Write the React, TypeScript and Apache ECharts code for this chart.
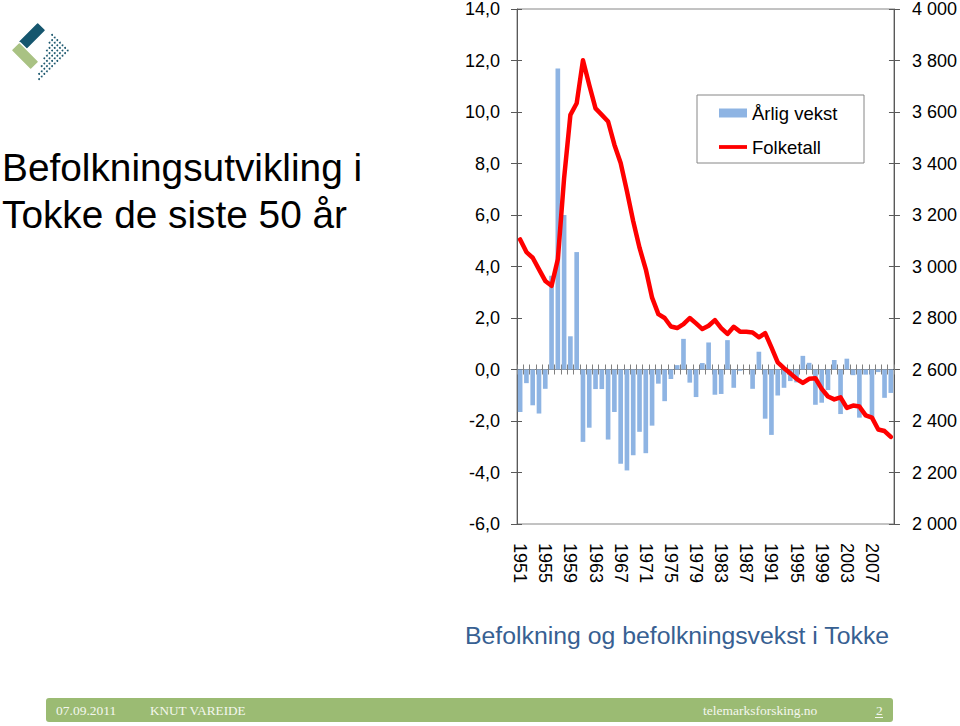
import React, { useEffect, useRef } from 'react';
import * as echarts from 'echarts';

const years = [
  '1951','1952','1953','1954','1955','1956','1957','1958','1959','1960',
  '1961','1962','1963','1964','1965','1966','1967','1968','1969','1970',
  '1971','1972','1973','1974','1975','1976','1977','1978','1979','1980',
  '1981','1982','1983','1984','1985','1986','1987','1988','1989','1990',
  '1991','1992','1993','1994','1995','1996','1997','1998','1999','2000',
  '2001','2002','2003','2004','2005','2006','2007','2008','2009','2010',
];

// Årlig vekst (%)
const growth = [
  -1.65, -0.53, -1.39, -1.71, -0.75, 3.64, 11.69, 6.0, 1.29, 4.56,
  -2.81, -2.26, -0.76, -0.76, -2.72, -1.65, -3.66, -3.92, -3.33, -2.42,
  -3.25, -2.18, -0.55, -1.23, -0.37, 0.17, 1.19, -0.51, -1.07, 0.25,
  1.05, -0.98, -0.95, 1.14, -0.71, -0.05, 0.0, -0.75, 0.69, -1.91,
  -2.54, -1.01, -0.71, -0.45, -0.5, 0.53, 0.26, -1.37, -1.29, -0.8,
  0.37, -1.73, 0.42, -0.22, -1.87, -0.2, -1.88, -0.1, -1.1, -0.91,
];

// Folketall
const population = [
  3105, 3056, 3034, 2989, 2944, 2925, 3028, 3344, 3589, 3634,
  3801, 3705, 3614, 3589, 3563, 3473, 3402, 3292, 3176, 3073,
  2989, 2879, 2815, 2800, 2767, 2761, 2776, 2800, 2779, 2757,
  2770, 2792, 2761, 2738, 2766, 2747, 2747, 2744, 2725, 2741,
  2686, 2628, 2605, 2585, 2564, 2548, 2564, 2566, 2525, 2495,
  2484, 2492, 2451, 2460, 2456, 2422, 2413, 2367, 2361, 2338,
];

const titleLines = ['Befolkningsutvikling i', 'Tokke de siste 50 år'];
const chartTitle = 'Befolkning og befolkningsvekst i Tokke';
const footerLeft = ['07.09.2011', 'KNUT VAREIDE'];
const footerRight = ['telemarksforsking.no', '2'];

export default function App() {
  const ref = useRef<HTMLDivElement>(null);

  useEffect(() => {
    if (!ref.current) return;
    const chart = echarts.init(ref.current, null, { renderer: 'svg' });
    const font = 'Liberation Sans, Arial, sans-serif';
    const serif = 'Liberation Serif, Times New Roman, serif';

    // logo dots (decoration): triangular dotted patch in 45° rotated coordinates
    const dots: any[] = [];
    const d = 5.2;
    for (let a = -40; a <= 17.5; a += d) {
      for (let b = 87; b <= 120.5; b += d) {
        if (b < 87 + ((17 - a) * 27) / 57) continue;
        const x = (a + b) / 2;
        const y = (b - a) / 2;
        dots.push({
          type: 'circle',
          shape: { cx: x, cy: y, r: 0.95 },
          style: { fill: '#1f5a70' },
          silent: true,
        });
      }
    }

    const catAxisBase = {
      type: 'category',
      data: years,
      gridIndex: 0,
      position: 'bottom',
      boundaryGap: true,
    };
    const leftFmt = (v: number) => v.toFixed(1).replace('.', ',');
    const rightFmt = (v: number) => {
      const t = Math.floor(v / 1000);
      const r = String(Math.round(v % 1000)).padStart(3, '0');
      return `${t} ${r}`;
    };

    chart.setOption({
      animation: false,
      backgroundColor: '#ffffff',
      textStyle: { fontFamily: font },
      grid: {
        left: 517,
        top: 7,
        width: 377,
        height: 517,
        show: true,
        borderColor: '#868686',
        borderWidth: 1,
        containLabel: false,
      },
      legend: {
        orient: 'vertical',
        left: 719,
        top: 103,
        itemWidth: 28,
        itemHeight: 9,
        itemGap: 14,
        padding: 0,
        selectedMode: false,
        textStyle: { fontSize: 18.5, color: '#000', fontFamily: font, lineHeight: 20 },
        data: [
          { name: 'Årlig vekst', icon: 'rect' },
          { name: 'Folketall', icon: 'path://M0,0M0,9M0,2.6H28V6.4H0Z' },
        ],
      },
      xAxis: [
        {
          ...catAxisBase,
          axisLine: { show: false, onZero: false },
          axisTick: { show: false },
          axisLabel: {
            interval: 3,
            rotate: -90,
            margin: 19,
            fontSize: 18,
            color: '#000',
            fontFamily: font,
          },
          splitLine: { show: false },
        },
        {
          ...catAxisBase,
          axisLine: { show: true, onZero: true, onZeroAxisIndex: 0, lineStyle: { color: '#808080', width: 1 } },
          axisTick: { show: true, interval: 0, length: 5, inside: false, lineStyle: { color: '#808080' } },
          axisLabel: { show: false },
          splitLine: { show: false },
        },
        {
          ...catAxisBase,
          axisLine: { show: true, onZero: true, onZeroAxisIndex: 0, lineStyle: { color: '#808080', width: 1 } },
          axisTick: { show: true, interval: 0, length: 5, inside: true, lineStyle: { color: '#808080' } },
          axisLabel: { show: false },
          splitLine: { show: false },
        },
      ],
      yAxis: [
        {
          type: 'value',
          position: 'left',
          min: -6,
          max: 14,
          interval: 2,
          axisLine: { show: true, lineStyle: { color: '#595959' } },
          axisTick: { show: true, length: 6, lineStyle: { color: '#595959' } },
          axisLabel: { formatter: leftFmt, fontSize: 18, color: '#000', margin: 17, fontFamily: font },
          splitLine: { show: false },
        },
        {
          type: 'value',
          position: 'right',
          min: 2000,
          max: 4000,
          interval: 200,
          axisLine: { show: true, lineStyle: { color: '#595959' } },
          axisTick: { show: true, length: 6, lineStyle: { color: '#595959' } },
          axisLabel: { formatter: rightFmt, fontSize: 18, color: '#000', margin: 18, fontFamily: font },
          splitLine: { show: false },
        },
        {
          type: 'value',
          position: 'left',
          min: -6,
          max: 14,
          interval: 2,
          axisLine: { show: false },
          axisTick: { show: true, inside: true, length: 5, lineStyle: { color: '#595959' } },
          axisLabel: { show: false },
          splitLine: { show: false },
        },
        {
          type: 'value',
          position: 'right',
          min: 2000,
          max: 4000,
          interval: 200,
          axisLine: { show: false },
          axisTick: { show: true, inside: true, length: 5, lineStyle: { color: '#595959' } },
          axisLabel: { show: false },
          splitLine: { show: false },
        },
      ],
      series: [
        {
          name: 'Årlig vekst',
          type: 'bar',
          xAxisIndex: 0,
          yAxisIndex: 0,
          data: growth,
          barWidth: '74%',
          itemStyle: { color: '#8EB4E3' },
          z: 2,
        },
        {
          name: 'Folketall',
          type: 'line',
          xAxisIndex: 0,
          yAxisIndex: 1,
          data: population,
          symbol: 'none',
          showSymbol: false,
          lineStyle: { color: '#FF0000', width: 4.5, join: 'round', cap: 'round' },
          itemStyle: { color: '#FF0000' },
          z: 3,
        },
      ],
      graphic: [
        // legend frame
        {
          type: 'rect',
          shape: { x: 697, y: 95, width: 167, height: 68 },
          style: { fill: 'none', stroke: '#868686', lineWidth: 1 },
          silent: true,
          z: 0,
        },
        // titles
        {
          type: 'text',
          x: 2,
          y: 167,
          style: { text: titleLines[0], fontSize: 38.8, fontFamily: font, fill: '#000', align: 'left', verticalAlign: 'middle' },
        },
        {
          type: 'text',
          x: 2,
          y: 214,
          style: { text: titleLines[1], fontSize: 38.8, fontFamily: font, fill: '#000', align: 'left', verticalAlign: 'middle' },
        },
        {
          type: 'text',
          x: 465,
          y: 635,
          style: { text: chartTitle, fontSize: 24.8, fontFamily: font, fill: '#376092', align: 'left', verticalAlign: 'middle' },
        },
        // footer bar
        {
          type: 'rect',
          shape: { x: 46, y: 698, width: 847, height: 24, r: 3 },
          style: { fill: '#9BBB73' },
          silent: true,
        },
        {
          type: 'text',
          x: 56,
          y: 710,
          style: { text: footerLeft[0], fontSize: 13.5, fontFamily: serif, fill: '#F4F7EE', align: 'left', verticalAlign: 'middle' },
        },
        {
          type: 'text',
          x: 150,
          y: 710,
          style: { text: footerLeft[1], fontSize: 13.2, fontFamily: serif, fill: '#F4F7EE', align: 'left', verticalAlign: 'middle' },
        },
        {
          type: 'text',
          x: 703,
          y: 710,
          style: { text: footerRight[0], fontSize: 13.5, fontFamily: serif, fill: '#F4F7EE', align: 'left', verticalAlign: 'middle' },
        },
        {
          type: 'text',
          x: 876,
          y: 710,
          style: { text: footerRight[1], fontSize: 13.5, fontFamily: serif, fill: '#F4F7EE', align: 'left', verticalAlign: 'middle' },
        },
        {
          type: 'line',
          shape: { x1: 875, y1: 717.5, x2: 883, y2: 717.5 },
          style: { stroke: '#F4F7EE', lineWidth: 1 },
          silent: true,
        },
        // logo
        ...dots,
        {
          type: 'rect',
          x: 32,
          y: 36,
          rotation: Math.PI / 4,
          shape: { x: -14, y: -6, width: 28, height: 12, r: 1.5 },
          style: { fill: '#15566E', stroke: '#ffffff', lineWidth: 1.5 },
          silent: true,
        },
        {
          type: 'rect',
          x: 25,
          y: 56,
          rotation: -Math.PI / 4,
          shape: { x: -14, y: -6, width: 28, height: 12, r: 1.5 },
          style: { fill: '#A9C283', stroke: '#ffffff', lineWidth: 1.5 },
          silent: true,
        },
      ],
    });

    return () => chart.dispose();
  }, []);

  return (
    <div
      ref={ref}
      style={{ position: 'fixed', left: 0, top: 0, width: 960, height: 726, background: '#fff' }}
    />
  );
}
